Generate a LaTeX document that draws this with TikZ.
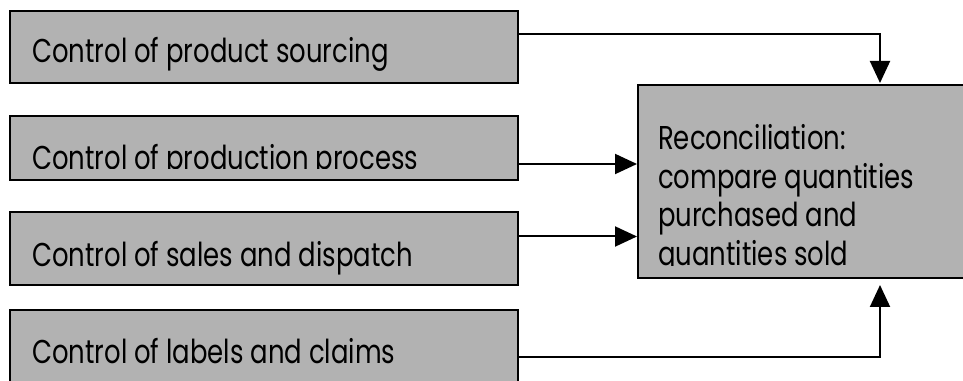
\documentclass[tikz,border=0pt]{standalone}
\usepackage{fontspec}
\setmainfont{Poppins}[FakeStretch=0.785]
\usetikzlibrary{arrows.meta}
\usetikzlibrary{positioning}
\usetikzlibrary{calc}
\tikzstyle{ctrlbox}=[draw=black,fill=black!30,line width=2pt,anchor=south west,inner sep=0pt,minimum width=508pt]
\tikzstyle{boxtext}=[anchor=base west,inner sep=0pt,align=left,font=\fontsize{33}{38.5}\selectfont]
\tikzstyle{flow}=[line width=2pt,-{Triangle[width=20pt,length=22pt]}]

\begin{document}
\begin{tikzpicture}[x=1pt,y=1pt]
\useasboundingbox (0,0) rectangle (963,380);
% the four control boxes and the reconciliation box
\node [ctrlbox,minimum height=72pt] (src) at (9,296) {};
\node [ctrlbox,minimum height=64pt] (prod) at (9,199) {};
\node [ctrlbox,minimum height=73pt] (sales) at (9,94) {};
\node [ctrlbox,minimum height=94pt] (lab) at (9,-25) {};
\node [ctrlbox,minimum width=484pt,minimum height=193pt] (rec) at (637,101) {};

% box texts
\node [boxtext] (srctxt) at ([shift={(23pt,21pt)}]src.south west) {Control of product sourcing};
\begin{scope}
  \clip ([yshift=12pt]prod.south west) rectangle (prod.north east);
  \node [boxtext] (prodtxt) at ([shift={(23pt,11.5pt)}]prod.south west) {Control of production process};
\end{scope}
\node [boxtext] (salestxt) at ([shift={(23pt,19pt)}]sales.south west) {Control of sales and dispatch};
\node [boxtext] (labtxt) at ([shift={(23pt,42pt)}]lab.south west) {Control of labels and claims};
\begin{scope}
  \clip ([yshift=13pt]rec.south west) rectangle (rec.north east);
  % base sits on the last line
  \node [boxtext] (rectxt) at ([shift={(21pt,13.5pt)}]rec.south west)
    {Reconciliation:\\compare quantities\\purchased and\\quantities sold};
\end{scope}

% connectors
\coordinate (p2) at ([yshift=-16pt]prod.east);
\coordinate (p3) at ([yshift=12pt]sales.east);
\draw [flow] ([yshift=13pt]src.east) -| ([yshift=1pt]rec.north);
\draw [flow] (p2) -- (p2 -| rec.west);
\draw [flow] (p3) -- (p3 -| rec.west);
\draw [flow] (lab.east) -| ([yshift=-6pt]rec.south);
\end{tikzpicture}
\end{document}
